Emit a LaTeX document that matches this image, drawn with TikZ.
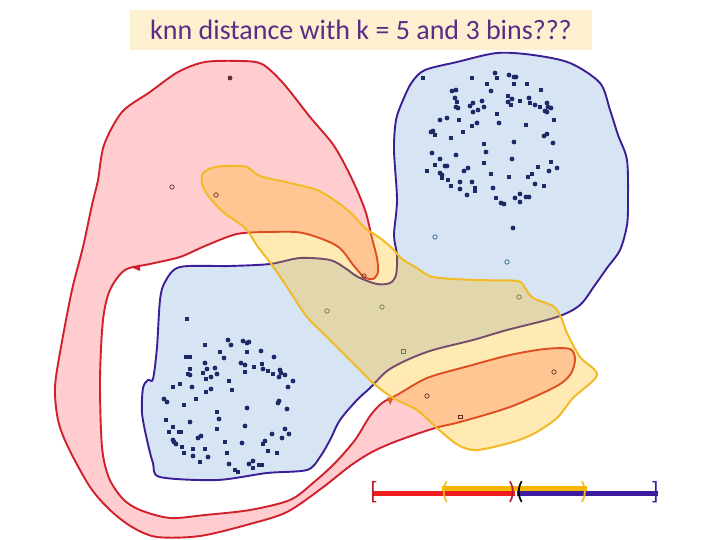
\documentclass[tikz,border=0pt]{standalone}
\usepackage{fontspec}
\setmainfont{Carlito}
\usepackage{xcolor}
\definecolor{titlebg}{HTML}{FDF0D0}
\definecolor{titletext}{HTML}{5B2C86}
\definecolor{redline}{HTML}{D0202C}
\definecolor{redfill}{HTML}{FFCCD0}
\definecolor{bluefill}{HTML}{D6E4F4}
\definecolor{blueline}{HTML}{3C1E96}
\definecolor{yellowfill}{HTML}{FFB908}
\definecolor{yellowline}{HTML}{F2BA26}
\definecolor{dotnavy}{HTML}{1E2A66}
\definecolor{olivept}{HTML}{6B7A3A}
\definecolor{redpt}{HTML}{6A2A20}
\definecolor{tealpt}{HTML}{2E6A8A}
\definecolor{barred}{HTML}{EE1C1C}
\definecolor{baryellow}{HTML}{F5B700}
\definecolor{barblue}{HTML}{3D1A9E}
\definecolor{bracketred}{HTML}{B0202A}

\begin{document}
\begin{tikzpicture}[
  x=1pt, y=-1pt,
  titlebox/.style={
    fill=titlebg,
    text=titletext,
    minimum width=462pt,
    minimum height=40pt,
    inner sep=0pt,
    font=\fontsize{28}{32}\selectfont
  },
  redset/.style={
    draw=redline,
    fill=redfill,
    line width=1.9pt
  },
  blueset/.style={
    draw=blueline,
    fill=bluefill,
    line width=1.9pt
  },
  yellowset/.style={
    draw=yellowline,
    fill=yellowfill,
    fill opacity=0.3,
    line width=2pt
  },
  bluedot/.style={fill=dotnavy},
  redpoint/.style={draw=redpt, line width=0.7pt},
  yellowpoint/.style={draw=olivept, line width=0.7pt},
  bracket/.style={inner sep=0pt, font=\fontsize{25}{26}\selectfont},
  barline/.style={line width=5.5pt}
]
  \useasboundingbox (0,0) rectangle (720,540);

  % Title
  \node[titlebox] (title) at (361,30) {knn distance with k = 5 and 3 bins???};

  % Red set: upper lobe, band round the left, lower lobe
  \draw[redset] plot[smooth cycle] coordinates {
    (98,180) (104,145) (122,112) (150,92) (178,72) (205,62) (240,61) (262,64)
    (283,83) (310,117) (332,143) (345,165) (357,190) (366,213) (372,238)
    (377,258) (378,272) (373,279) (364,277) (354,266) (337,246) (303,233)
    (270,232) (237,234) (205,246) (180,257) (150,264) (125,270) (110,290)
    (103,320) (100,380) (102,447) (109,478) (123,499) (140,510) (170,518)
    (205,515) (250,510) (290,500) (313,483) (335,463) (355,440) (370,416)
    (382,403) (397,395) (427,378) (465,367) (510,355) (545,349) (570,349)
    (575,360) (570,375) (555,387) (510,407) (460,422) (435,428) (397,441)
    (372,452) (350,466) (322,488) (287,512) (250,524) (200,536) (157,537)
    (132,527) (110,510) (90,487) (68,447) (58,420) (55,387) (61,347)
    (72,290) (83,247) (92,205)};
  \fill[redline] (133,268) -- (140,264.5) -- (140,271) -- cycle;

  % Blue set: two clusters joined by a band
  \draw[blueset] plot[smooth cycle] coordinates {
    (180,267) (230,266) (270,264) (300,258) (330,260) (345,268) (358,277)
    (377,284) (390,283) (396,275) (397,255) (394,235) (397,200) (394,150)
    (396,120) (403,100) (412,82) (425,70) (457,62) (497,53) (533,55)
    (570,63) (600,83) (610,110) (618,135) (627,160) (628,200) (627,225)
    (620,250) (607,268) (595,285) (580,305) (557,317) (507,330) (473,340)
    (433,350) (407,360) (387,371) (370,388) (357,400) (340,420) (330,440)
    (320,457) (307,470) (267,473) (217,480) (160,477) (153,463) (147,440)
    (142,413) (143,388) (148,380) (153,379) (157,347) (160,300) (165,282)};

  % Yellow set, see-through over the others
  \draw[yellowset] plot[smooth cycle] coordinates {
    (203,173) (215,167) (233,166) (247,167) (260,176) (290,183) (317,190)
    (337,202) (352,214) (365,228) (380,238) (393,249) (402,259) (417,268)
    (433,277) (475,280) (517,281) (525,288) (533,298) (553,306) (561,317)
    (567,333) (580,357) (597,375) (573,398) (557,418) (535,433) (513,442)
    (477,450) (458,445) (437,428) (417,410) (393,398) (373,383) (357,367)
    (327,337) (307,317) (287,287) (272,265) (258,247) (245,228) (223,212)
    (207,194) (202,183)};
  \fill[redline!60!yellowline] (387,397) -- (393,399) -- (390,405) -- cycle;

  % Upper-right cluster
  \foreach \p in {(495,73),(509,75),(514,77),(516,77),(452,91),(456,90),(491,91),
      (512,99),(455,98),(456,107),(458,108),(470,106),(473,103),(482,101),
      (484,107),(478,110),(473,112),(508,102),(529,98),(535,105),(547,103),
      (548,107),(551,108),(545,111),(547,112),(447,118),(440,120),(477,123),
      (499,123),(431,132),(433,131),(544,136),(547,134),(553,143),(514,142),
      (486,152),(432,153),(456,155),(440,159),(512,159),(445,166),(447,166),
      (557,168),(549,171),(440,173),(442,175),(464,171),(468,168),(460,182),
      (472,182),(535,184),(493,188),(460,189),(467,195),(501,203),(504,204),
      (515,198),(520,194),(520,202),(526,197),(529,197),(513,228)}
    \fill[bluedot] \p circle (2.4);
  \foreach \p in {(423,78),(472,78),(497,78),(487,84),(514,84),(527,84),(541,90),
      (508,96),(457,102),(511,105),(520,101),(530,103),(540,107),(497,114),
      (459,120),(472,126),(526,125),(554,120),(435,135),(463,132),(451,138),
      (484,144),(484,163),(551,162),(435,165),(538,167),(427,171),(532,174),
      (528,177),(491,174),(509,177),(442,178),(448,180),(451,186),(544,186),
      (475,188),(475,191),(496,198)}
    \fill[bluedot] \p ++(-2.2,-2.2) rectangle ++(4.4,4.4);

  % Lower-left cluster
  \foreach \p in {(228,340),(231,345),(243,341),(247,343),(249,342),(261,351),
      (224,358),(274,357),(241,363),(245,365),(205,363),(207,369),(215,368),
      (217,374),(263,369),(279,377),(280,370),(281,373),(285,375),(190,375),
      (211,377),(293,381),(288,387),(192,387),(211,389),(164,399),(167,402),
      (247,408),(278,403),(279,401),(287,409),(219,419),(190,422),(245,426),
      (285,429),(289,434),(272,434),(201,436),(198,438),(173,440),(174,442),
      (176,444),(242,443),(265,441),(282,438),(193,456),(208,457),(229,464),
      (249,464),(253,461)}
    \fill[bluedot] \p circle (2.4);
  \foreach \p in {(187,319),(205,345),(220,352),(247,352),(186,357),(190,357),
      (254,367),(262,364),(190,369),(203,373),(245,372),(268,371),(273,374),
      (188,374),(206,379),(229,381),(173,387),(180,384),(206,392),(232,390),
      (196,399),(184,405),(217,412),(166,420),(173,427),(217,429),(169,432),
      (179,432),(181,432),(225,442),(263,444),(182,447),(193,449),(205,449),
      (268,451),(277,453),(184,453),(227,453),(200,462),(253,468),(259,465),
      (262,465),(235,470),(238,472)}
    \fill[bluedot] \p ++(-2.2,-2.2) rectangle ++(4.4,4.4);

  % Outliers of each set
  \foreach \p in {(435,237),(507,262)}
    \draw[tealpt, fill=bluefill, line width=0.7pt] \p circle (2.2);
  \filldraw[redpt, line width=0.7pt] (230,78) circle (2);
  \foreach \p in {(172,187),(216,195),(364,276),(427,396),(554,372)}
    \draw[redpoint] \p circle (2.2);
  \draw[redpoint] (458,415.5) rectangle (462,418.5);
  \foreach \p in {(327,311),(382,307),(519,297)}
    \draw[yellowpoint] \p circle (2.2);
  \draw[yellowpoint] (401,349.5) rectangle (405,353);

  % Bins along the bottom
  \coordinate (yelstart) at (442,488.5);
  \coordinate (yelend) at (587,488.5);
  \coordinate (redstart) at (372,493.5);
  \coordinate (redend) at (515,493.5);
  \coordinate (bluestart) at (517,493.5);
  \coordinate (blueend) at (658,493.5);
  \draw[barline, baryellow] (yelstart) -- (yelend);
  \draw[barline, barred] (redstart) -- (redend);
  \draw[barline, barblue] (bluestart) -- (blueend);

  \node[bracket, text=bracketred] (redopen) at (374,492) {[};
  \node[bracket, text=yellowline] (yelopen) at (445,492) {(};
  \node[bracket, text=bracketred] (redclose) at (512,492) {)};
  \node[bracket, text=black] (blueopen) at (520,492) {(};
  \node[bracket, text=yellowline] (yelclose) at (584,492) {)};
  \node[bracket, text=barblue] (blueclose) at (655,492) {]};
\end{tikzpicture}
\end{document}
